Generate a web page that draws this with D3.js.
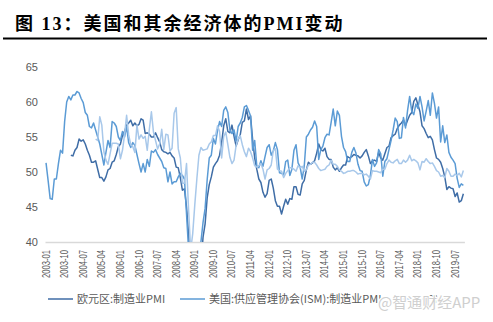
<!DOCTYPE html>
<html><head><meta charset="utf-8">
<script src="https://cdn.jsdelivr.net/npm/d3@7"></script>
<style>body{margin:0;background:#fff;} svg{display:block}</style>
</head><body>
<svg id="c" width="493" height="322"></svg>
<script>
// ---- data ----
const startYear = 2003, endYear = 2019, endMonth = 11;
const months = [];
for (let yr = startYear; yr <= endYear; yr++) {
  for (let m = 1; m <= 12; m++) {
    if (yr === endYear && m > endMonth) break;
    months.push(yr + "-" + String(m).padStart(2, "0"));
  }
}
const tickLabels = ["2003-01","2003-10","2004-07","2005-04","2006-01","2006-10","2007-07","2008-04",
  "2009-01","2009-10","2010-07","2011-04","2012-01","2012-10","2013-07","2014-04","2015-01","2015-10",
  "2016-07","2017-04","2018-01","2018-10","2019-07"];
const yTicks = [40,45,50,55,60,65];
const seriesNames = ["欧元区:制造业PMI","美国:供应管理协会(ISM):制造业PMI","PMI"];

// 欧元区:制造业PMI (2004-01 起)
const euro = [null,null,null,null,null,null,null,null,null,null,null,null,
  52.4,52.3,53.1,53.5,54.7,54.4,54.6,54.0,53.1,52.4,51.4,51.4,
  51.6,50.4,49.2,49.2,48.7,49.3,50.3,50.5,51.4,51.6,52.5,53.6,
  54.0,55.2,55.8,56.7,57.0,57.4,56.6,57.0,56.6,56.8,57.6,57.4,
  55.5,55.6,55.4,55.0,55.0,55.6,54.9,54.3,53.2,52.9,52.8,52.6,
  52.8,52.3,52.0,50.7,50.6,49.2,47.4,47.6,45.0,41.1,35.6,33.9,
  34.4,33.5,33.9,36.8,40.7,42.6,46.3,48.2,49.3,50.7,51.2,51.6,
  52.4,54.2,56.6,57.6,55.8,55.6,56.7,55.1,53.7,54.6,55.3,57.1,
  57.3,59.0,57.5,58.0,54.6,52.0,50.4,49.0,48.5,47.1,46.4,46.9,
  48.8,49.0,47.7,45.9,45.1,45.1,44.0,45.1,46.1,45.4,46.2,46.1,
  47.9,47.9,46.8,46.7,48.3,48.8,50.3,51.4,51.1,51.3,51.6,52.7,
  54.0,53.2,53.0,53.4,52.2,51.8,51.8,50.7,50.3,50.6,50.1,50.6,
  51.0,51.0,52.2,52.0,52.2,52.5,52.4,52.3,52.0,52.3,52.8,53.2,
  52.3,51.2,51.6,51.7,51.5,52.8,52.0,51.7,52.6,53.5,53.7,54.9,
  55.2,55.4,56.2,56.7,57.0,57.4,56.6,57.4,58.1,58.5,60.1,60.6,
  59.6,58.6,56.6,56.2,55.5,54.9,55.1,54.6,53.2,52.0,51.8,51.4,
  50.5,49.3,47.5,47.9,47.7,47.6,46.5,47.0,45.7,45.9,46.9];

// 美国:供应管理协会(ISM):制造业PMI
const ism = [
  51.3,48.8,46.2,46.1,49.0,49.0,51.2,53.1,52.7,57.2,60.0,60.8,
  60.3,61.0,61.0,61.5,61.3,60.5,59.9,58.5,58.1,56.5,56.3,57.0,
  56.0,55.0,54.0,52.5,51.0,52.8,54.5,53.5,57.2,57.0,56.5,55.0,
  54.5,55.8,55.0,56.5,54.2,53.5,54.2,53.8,52.5,51.2,50.0,51.2,
  50.0,51.8,50.8,53.0,52.8,53.2,52.5,52.0,51.5,50.6,50.5,48.6,
  50.0,48.3,48.6,48.6,49.3,49.8,49.5,49.0,44.0,38.9,36.2,32.9,
  35.5,35.8,36.3,40.1,42.8,44.8,48.9,52.0,52.4,54.8,54.0,55.9,
  57.2,56.5,58.8,59.3,58.5,56.0,55.5,56.0,54.4,56.5,57.0,57.8,
  59.3,59.5,58.8,58.0,53.1,54.5,50.9,50.6,51.6,50.8,52.2,53.5,
  53.9,52.4,53.0,54.2,53.2,49.9,49.8,49.6,51.5,51.7,49.5,50.4,
  53.1,53.9,51.3,50.7,49.0,50.9,55.0,55.4,56.0,56.4,57.3,56.5,
  51.8,53.2,53.7,54.9,55.4,55.3,57.1,59.0,56.6,58.7,58.1,55.1,
  53.5,52.9,51.5,51.5,52.8,53.5,52.7,51.1,50.2,50.1,48.6,48.0,
  48.2,49.5,51.8,50.8,51.3,53.2,52.6,49.4,51.5,51.9,53.2,54.5,
  56.0,57.7,57.2,54.8,54.9,57.8,56.3,58.8,60.8,58.7,58.2,59.7,
  59.1,60.8,59.3,57.3,58.7,60.2,58.1,61.3,59.8,57.7,59.3,54.3,
  56.6,54.2,55.3,52.8,52.1,51.7,51.2,49.1,47.8,48.3,48.1];

// 中国:制造业PMI (2005-01 起)
const china = [null,null,null,null,null,null,null,null,null,null,null,null,
  null,null,null,null,null,null,null,null,null,null,null,null,
  54.7,54.5,57.9,56.7,52.9,51.7,51.1,52.6,54.1,54.1,54.1,54.0,
  51.9,53.1,55.3,58.1,55.3,53.9,53.6,52.8,56.7,54.7,55.3,54.8,
  55.1,53.1,56.1,58.6,55.7,54.5,53.3,54.0,56.1,53.2,55.4,55.3,
  53.0,53.4,58.4,59.2,53.3,52.0,48.4,48.4,51.2,44.6,38.8,41.2,
  45.3,49.0,52.4,53.5,53.1,53.2,53.3,54.0,54.3,55.2,55.2,56.6,
  55.8,52.0,55.1,55.7,53.9,52.1,51.2,51.7,53.8,54.7,55.2,53.9,
  52.9,52.2,53.4,52.9,52.0,50.9,50.7,50.9,51.2,50.4,49.0,50.3,
  50.5,51.0,53.1,53.3,50.4,50.2,50.1,49.2,49.8,50.2,50.6,50.6,
  50.4,50.1,50.9,50.6,50.8,50.1,50.3,51.0,51.1,51.4,51.4,51.0,
  50.5,50.2,50.3,50.4,50.8,51.0,51.7,51.1,51.1,50.8,50.3,50.1,
  49.8,49.9,50.1,50.1,50.2,50.2,50.0,49.7,49.8,49.8,49.6,49.7,
  49.4,49.0,50.2,50.1,50.1,50.0,49.9,50.4,50.4,51.2,51.7,51.4,
  51.3,51.6,51.8,51.2,51.2,51.7,51.4,51.7,52.4,51.6,51.8,51.6,
  51.3,50.3,51.5,51.4,51.9,51.5,51.2,51.3,50.8,50.2,50.0,49.4,
  49.5,49.2,50.5,50.1,49.4,49.4,49.7,49.5,49.8,49.3,50.2];

const colors = ["#3F6DA6","#5B9BD5","#A8C8EA"];

// ---- drawing ----
const svg = d3.select("#c");
const textColor = "#595959";

// title
svg.append("text").attr("x", 15).attr("y", 30)
  .attr("font-family", "'Liberation Serif','Noto Sans CJK SC',serif")
  .attr("font-weight", "bold").attr("font-size", 18).attr("letter-spacing", 2)
  .attr("fill", "#000").text("图 13：美国和其余经济体的PMI变动");
svg.append("line").attr("x1", 3).attr("x2", 487).attr("y1", 38.5).attr("y2", 38.5)
  .attr("stroke", "#000").attr("stroke-width", 2);

const x = d3.scaleBand().domain(months).range([45, 464.4]).paddingInner(0).paddingOuter(0);
const bw = x.bandwidth();
const y = d3.scaleLinear().domain([40, 65]).range([242, 67]);

svg.append("defs").append("clipPath").attr("id", "clip")
  .append("rect").attr("x", 30).attr("y", 40).attr("width", 450).attr("height", 202);

// x axis
const xAxis = svg.append("g").attr("transform", "translate(0,242)")
  .call(d3.axisBottom(x).tickValues(tickLabels).tickSize(0));
xAxis.select(".domain").attr("stroke", "#D9D9D9").attr("stroke-width", 1.5);
xAxis.selectAll("text")
  .attr("transform", "rotate(-90)")
  .attr("x", -8).attr("y", 0).attr("dy", "0.35em")
  .attr("text-anchor", "end")
  .attr("font-family", "'Liberation Sans',Arial,sans-serif")
  .attr("font-size", 10).attr("fill", textColor)
  .attr("textLength", 28).attr("lengthAdjust", "spacingAndGlyphs");

// y axis
const yAxis = svg.append("g").attr("transform", "translate(44,0)")
  .call(d3.axisLeft(y).tickValues(yTicks).tickSize(0).tickPadding(6));
yAxis.select(".domain").remove();
yAxis.selectAll("text").attr("font-family", "'Liberation Sans',Arial,sans-serif")
  .attr("font-size", 11).attr("fill", textColor);

// lines
const line = d3.line()
  .defined(d => d != null)
  .x((d, i) => x(months[i]) + bw / 2)
  .y(d => y(d));
const g = svg.append("g").attr("clip-path", "url(#clip)");
[euro, ism, china].forEach((s, k) => {
  g.append("path").datum(s).attr("d", line)
    .attr("fill", "none").attr("stroke", colors[k]).attr("stroke-width", 1.5)
    .attr("stroke-linejoin", "round");
});

// legend
const legendItems = [
  {name: seriesNames[0], c: colors[0], x: 48},
  {name: seriesNames[1], c: colors[1], x: 180},
  {name: seriesNames[2], c: colors[2], x: 398}
];
const lg = svg.append("g");
legendItems.forEach(it => {
  lg.append("line").attr("x1", it.x).attr("x2", it.x + 25).attr("y1", 299).attr("y2", 299)
    .attr("stroke", it.c).attr("stroke-width", 1.5);
  lg.append("text").attr("x", it.x + 29).attr("y", 303)
    .attr("font-family", "'Noto Sans CJK SC','Liberation Sans',sans-serif")
    .attr("font-size", 11).attr("fill", textColor).text(it.name);
});

// watermark
svg.append("text").attr("x", 378).attr("y", 308)
  .attr("font-family", "'Noto Sans CJK SC',sans-serif").attr("font-size", 15)
  .attr("fill", "#CFCFCF").attr("stroke", "#fff").attr("stroke-width", 2.5)
  .attr("paint-order", "stroke").text("@智通财经APP");
</script>
</body></html>
